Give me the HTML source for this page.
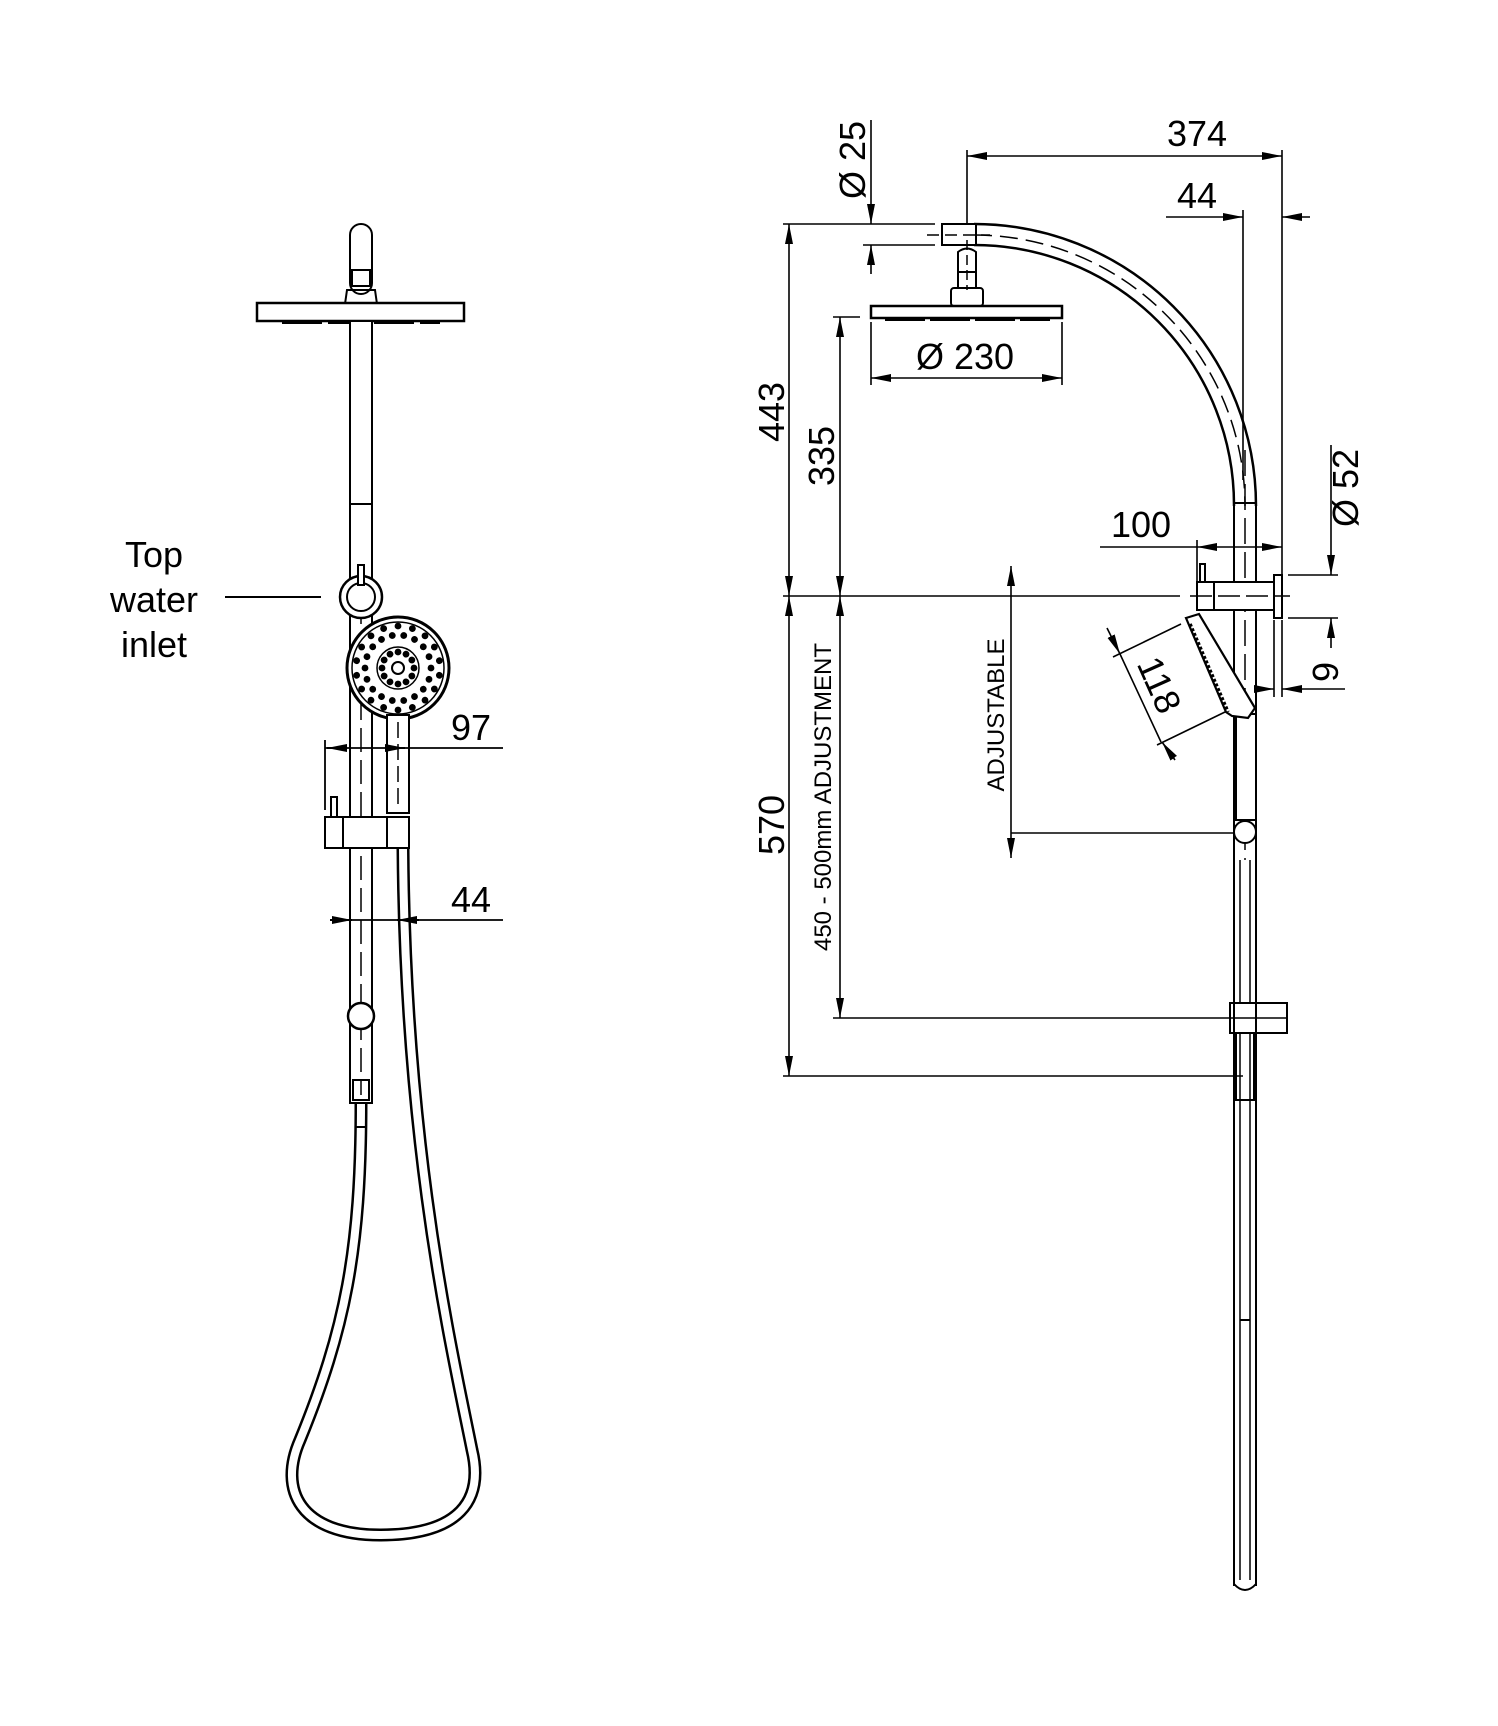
<!DOCTYPE html>
<html><head><meta charset="utf-8"><style>
html,body{margin:0;padding:0;background:#fff;}
svg{display:block;}
text{font-family:"Liberation Sans","DejaVu Sans",sans-serif;fill:#000;}
</style></head><body>
<svg width="1498" height="1726" viewBox="0 0 1498 1726" xmlns="http://www.w3.org/2000/svg">
<defs>
<marker id="a" viewBox="0 0 20 8" refX="20" refY="4" markerWidth="20" markerHeight="8" markerUnits="userSpaceOnUse" orient="auto-start-reverse"><path d="M0,0 L20,4 L0,8 z" fill="#000"/></marker>
<circle id="d" r="3.4" fill="#000"/>
</defs>
<g fill="none" stroke="#000" stroke-width="2">
<path d="M361 1103 C361 1250,345 1330,300 1440 C278 1490,300 1535,380 1535 C460 1535,484 1500,472 1450 C452 1350,405 1150,403 848" stroke-width="13"/>
<path d="M361 1103 C361 1250,345 1330,300 1440 C278 1490,300 1535,380 1535 C460 1535,484 1500,472 1450 C452 1350,405 1150,403 848" stroke="#fff" stroke-width="8"/>
<line x1="355" y1="1127" x2="367" y2="1127"/>
<rect x="350" y="224" width="22" height="70" rx="11" fill="#fff"/>
<rect x="352" y="270" width="18" height="16"/>
<path d="M345 304 L347 290 L375 290 L377 304"/>
<rect x="257" y="303" width="207" height="18" fill="#fff" stroke-width="2.5"/>
<line x1="282" y1="323" x2="440" y2="323" stroke-width="2" stroke-dasharray="40 6"/>
<rect x="350" y="321" width="22" height="782" fill="#fff"/>
<line x1="350" y1="504" x2="372" y2="504"/>
<line x1="361" y1="600" x2="361" y2="1095" stroke-dasharray="24 8" stroke-width="1.5"/>
<path d="M353 1080 L369 1080 L369 1100 L353 1100 z"/>
<circle cx="361" cy="597" r="21" fill="#fff" stroke-width="2.5"/>
<circle cx="361" cy="597" r="14" fill="#fff"/>
<rect x="358" y="565" width="6" height="20" fill="#fff"/>
<line x1="225" y1="597" x2="321" y2="597"/>
<circle cx="398" cy="668" r="51" fill="#fff" stroke-width="3"/>
<circle cx="398" cy="668" r="46" stroke-width="1.5"/>
<circle cx="398" cy="668" r="21" stroke-width="1.5"/>
<circle cx="398" cy="668" r="6"/>
<rect x="387" y="715" width="22" height="98" fill="#fff"/>
<line x1="398" y1="722" x2="398" y2="810" stroke-dasharray="16 6" stroke-width="1.5"/>
<rect x="325" y="817" width="84" height="31" fill="#fff"/>
<line x1="343" y1="817" x2="343" y2="848"/>
<line x1="387" y1="817" x2="387" y2="848"/>
<rect x="331" y="797" width="6" height="20"/>
<circle cx="361" cy="1016" r="13" fill="#fff" stroke-width="2.5"/>
<line x1="325" y1="748" x2="503" y2="748" stroke-width="1.8"/>
<line x1="325" y1="740" x2="325" y2="810" stroke-width="1.8"/>
<line x1="327" y1="748" x2="345" y2="748" marker-start="url(#a)"/>
<line x1="405" y1="748" x2="388" y2="748" marker-start="url(#a)"/>
<line x1="330" y1="920" x2="503" y2="920" stroke-width="1.8"/>
<line x1="352" y1="920" x2="330" y2="920" marker-start="url(#a)"/>
<line x1="397" y1="920" x2="419" y2="920" marker-start="url(#a)"/>

<path d="M974 224 A282 282 0 0 1 1256 506" stroke-width="2.5"/>
<path d="M974 245 A260 260 0 0 1 1234 506" stroke-width="2.5"/>
<path d="M974 235 A271 271 0 0 1 1245 506" stroke-dasharray="18 8" stroke-width="1.5"/>
<rect x="942" y="224" width="34" height="21" fill="#fff"/>
<line x1="927" y1="235" x2="990" y2="235" stroke-dasharray="12 6" stroke-width="1.5"/>
<path d="M958 290 L958 252 Q967 245 976 252 L976 290"/>
<line x1="958" y1="272" x2="976" y2="272"/>
<rect x="951" y="288" width="32" height="18" rx="3" fill="#fff"/>
<line x1="967" y1="240" x2="967" y2="290" stroke-dasharray="10 5" stroke-width="1.5"/>
<rect x="871" y="306" width="191" height="12" fill="#fff" stroke-width="2.5"/>
<line x1="885" y1="320" x2="1050" y2="320" stroke-dasharray="40 5" stroke-width="2"/>
<line x1="1234" y1="506" x2="1234" y2="1586"/>
<line x1="1256" y1="506" x2="1256" y2="1586"/>
<path d="M1234 1584 Q1245 1596 1256 1584"/>
<line x1="1234" y1="503" x2="1256" y2="503"/>
<line x1="1245" y1="450" x2="1245" y2="860" stroke-dasharray="26 8" stroke-width="1.5"/>
<line x1="1240" y1="860" x2="1240" y2="1580" stroke-width="1.5"/>
<line x1="1250" y1="860" x2="1250" y2="1580" stroke-width="1.5"/>
<line x1="1240" y1="1320" x2="1250" y2="1320"/>
<line x1="1240" y1="1100" x2="1250" y2="1100"/>
<rect x="1197" y="582" width="77" height="28" fill="#fff"/>
<line x1="1214" y1="582" x2="1214" y2="610"/>
<rect x="1274" y="575" width="8" height="43" fill="#fff"/>
<rect x="1200" y="564" width="5" height="18" fill="#fff"/>
<rect x="1236" y="714" width="20" height="106" fill="#fff"/>
<path d="M1186 618 L1199 614 L1255 708 L1248 718 L1232 716 L1226 712 z" fill="#fff" stroke-width="2.2"/>
<line x1="1190" y1="624" x2="1228" y2="712" stroke-width="3.5" stroke-dasharray="3 2"/>
<circle cx="1245" cy="832" r="11" fill="#fff"/>
<rect x="1230" y="1003" width="57" height="30" fill="#fff"/>
<line x1="1234" y1="1003" x2="1234" y2="1033"/>
<line x1="1256" y1="1003" x2="1256" y2="1033"/>
<path d="M1236 1033 L1236 1100 L1254 1100 L1254 1033"/>

<g stroke-width="1.6">
<line x1="967" y1="150" x2="967" y2="224"/>
<line x1="1282" y1="150" x2="1282" y2="575"/>
<line x1="990" y1="156" x2="967" y2="156" marker-end="url(#a)"/>
<line x1="990" y1="156" x2="1260" y2="156"/>
<line x1="1260" y1="156" x2="1282" y2="156" marker-end="url(#a)"/>
<line x1="1243" y1="210" x2="1243" y2="480"/>
<line x1="1166" y1="217" x2="1243" y2="217" marker-end="url(#a)"/>
<line x1="1310" y1="217" x2="1282" y2="217" marker-end="url(#a)"/>
<line x1="783" y1="224" x2="935" y2="224"/>
<line x1="863" y1="245" x2="935" y2="245"/>
<line x1="871" y1="120" x2="871" y2="224" marker-end="url(#a)"/>
<line x1="871" y1="274" x2="871" y2="245" marker-end="url(#a)"/>
<line x1="789" y1="250" x2="789" y2="224" marker-end="url(#a)"/>
<line x1="789" y1="250" x2="789" y2="570"/>
<line x1="789" y1="570" x2="789" y2="596" marker-end="url(#a)"/>
<line x1="789" y1="620" x2="789" y2="596" marker-end="url(#a)"/>
<line x1="789" y1="620" x2="789" y2="1050"/>
<line x1="789" y1="1050" x2="789" y2="1076" marker-end="url(#a)"/>
<line x1="783" y1="596" x2="1180" y2="596"/>
<line x1="1190" y1="596" x2="1290" y2="596" stroke-dasharray="22 6"/>
<line x1="783" y1="1076" x2="1243" y2="1076"/>
<line x1="833" y1="317" x2="860" y2="317"/>
<line x1="840" y1="343" x2="840" y2="317" marker-end="url(#a)"/>
<line x1="840" y1="343" x2="840" y2="570"/>
<line x1="840" y1="570" x2="840" y2="596" marker-end="url(#a)"/>
<line x1="840" y1="620" x2="840" y2="596" marker-end="url(#a)"/>
<line x1="840" y1="620" x2="840" y2="992"/>
<line x1="840" y1="992" x2="840" y2="1018" marker-end="url(#a)"/>
<line x1="833" y1="1018" x2="1287" y2="1018"/>
<line x1="871" y1="322" x2="871" y2="385"/>
<line x1="1062" y1="322" x2="1062" y2="385"/>
<line x1="895" y1="378" x2="871" y2="378" marker-end="url(#a)"/>
<line x1="895" y1="378" x2="1040" y2="378"/>
<line x1="1040" y1="378" x2="1062" y2="378" marker-end="url(#a)"/>
<line x1="1011" y1="592" x2="1011" y2="566" marker-end="url(#a)"/>
<line x1="1011" y1="592" x2="1011" y2="832"/>
<line x1="1011" y1="832" x2="1011" y2="858" marker-end="url(#a)"/>
<line x1="1011" y1="833" x2="1234" y2="833"/>
<line x1="1197" y1="540" x2="1197" y2="582"/>
<line x1="1100" y1="547" x2="1197" y2="547"/>
<line x1="1222" y1="547" x2="1197" y2="547" marker-end="url(#a)"/>
<line x1="1222" y1="547" x2="1258" y2="547"/>
<line x1="1258" y1="547" x2="1282" y2="547" marker-end="url(#a)"/>
<line x1="1288" y1="575" x2="1338" y2="575"/>
<line x1="1288" y1="618" x2="1338" y2="618"/>
<line x1="1331" y1="445" x2="1331" y2="575" marker-end="url(#a)"/>
<line x1="1331" y1="648" x2="1331" y2="618" marker-end="url(#a)"/>
<line x1="1274" y1="620" x2="1274" y2="697"/>
<line x1="1282" y1="620" x2="1282" y2="697"/>
<line x1="1254" y1="689" x2="1274" y2="689" marker-end="url(#a)"/>
<line x1="1345" y1="689" x2="1282" y2="689" marker-end="url(#a)"/>
<line x1="1113" y1="657" x2="1181" y2="624"/>
<line x1="1157" y1="745" x2="1225" y2="712"/>
<line x1="1107" y1="628" x2="1120" y2="654" marker-end="url(#a)"/>
<line x1="1120" y1="654" x2="1161" y2="742"/>
<line x1="1175" y1="760" x2="1162" y2="742" marker-end="url(#a)"/>
</g>
</g>
<g>
<use href="#d" x="398" y="626"/><use href="#d" x="398" y="626" transform="rotate(20 398 668)"/><use href="#d" x="398" y="626" transform="rotate(40 398 668)"/><use href="#d" x="398" y="626" transform="rotate(60 398 668)"/><use href="#d" x="398" y="626" transform="rotate(80 398 668)"/><use href="#d" x="398" y="626" transform="rotate(100 398 668)"/><use href="#d" x="398" y="626" transform="rotate(120 398 668)"/><use href="#d" x="398" y="626" transform="rotate(140 398 668)"/><use href="#d" x="398" y="626" transform="rotate(160 398 668)"/><use href="#d" x="398" y="626" transform="rotate(180 398 668)"/><use href="#d" x="398" y="626" transform="rotate(200 398 668)"/><use href="#d" x="398" y="626" transform="rotate(220 398 668)"/><use href="#d" x="398" y="626" transform="rotate(240 398 668)"/><use href="#d" x="398" y="626" transform="rotate(260 398 668)"/><use href="#d" x="398" y="626" transform="rotate(280 398 668)"/><use href="#d" x="398" y="626" transform="rotate(300 398 668)"/><use href="#d" x="398" y="626" transform="rotate(320 398 668)"/><use href="#d" x="398" y="626" transform="rotate(340 398 668)"/>
<use href="#d" x="398" y="635" transform="rotate(10 398 668)"/><use href="#d" x="398" y="635" transform="rotate(30 398 668)"/><use href="#d" x="398" y="635" transform="rotate(50 398 668)"/><use href="#d" x="398" y="635" transform="rotate(70 398 668)"/><use href="#d" x="398" y="635" transform="rotate(90 398 668)"/><use href="#d" x="398" y="635" transform="rotate(110 398 668)"/><use href="#d" x="398" y="635" transform="rotate(130 398 668)"/><use href="#d" x="398" y="635" transform="rotate(150 398 668)"/><use href="#d" x="398" y="635" transform="rotate(170 398 668)"/><use href="#d" x="398" y="635" transform="rotate(190 398 668)"/><use href="#d" x="398" y="635" transform="rotate(210 398 668)"/><use href="#d" x="398" y="635" transform="rotate(230 398 668)"/><use href="#d" x="398" y="635" transform="rotate(250 398 668)"/><use href="#d" x="398" y="635" transform="rotate(270 398 668)"/><use href="#d" x="398" y="635" transform="rotate(290 398 668)"/><use href="#d" x="398" y="635" transform="rotate(310 398 668)"/><use href="#d" x="398" y="635" transform="rotate(330 398 668)"/><use href="#d" x="398" y="635" transform="rotate(350 398 668)"/>
<use href="#d" x="398" y="652"/><use href="#d" x="398" y="652" transform="rotate(30 398 668)"/><use href="#d" x="398" y="652" transform="rotate(60 398 668)"/><use href="#d" x="398" y="652" transform="rotate(90 398 668)"/><use href="#d" x="398" y="652" transform="rotate(120 398 668)"/><use href="#d" x="398" y="652" transform="rotate(150 398 668)"/><use href="#d" x="398" y="652" transform="rotate(180 398 668)"/><use href="#d" x="398" y="652" transform="rotate(210 398 668)"/><use href="#d" x="398" y="652" transform="rotate(240 398 668)"/><use href="#d" x="398" y="652" transform="rotate(270 398 668)"/><use href="#d" x="398" y="652" transform="rotate(300 398 668)"/><use href="#d" x="398" y="652" transform="rotate(330 398 668)"/>
</g>
<g font-size="36" text-anchor="middle">
<text x="154" y="567">Top</text>
<text x="154" y="612">water</text>
<text x="154" y="657">inlet</text>
<text x="471" y="740">97</text>
<text x="471" y="912">44</text>
<text x="1197" y="146">374</text>
<text x="1197" y="208">44</text>
<text x="965" y="369">Ø 230</text>
<text x="1141" y="537">100</text>
<text transform="translate(1338,672) rotate(-90)">9</text>
<text transform="translate(1358,488) rotate(-90)">Ø 52</text>
<text transform="translate(865,160) rotate(-90)">Ø 25</text>
<text transform="translate(784,412) rotate(-90)">443</text>
<text transform="translate(834,456) rotate(-90)">335</text>
<text transform="translate(784,825) rotate(-90)">570</text>
<text transform="translate(1148,690) rotate(66)">118</text>
</g>
<g font-size="24" text-anchor="middle">
<text transform="translate(831,797) rotate(-90)">450 - 500mm ADJUSTMENT</text>
<text transform="translate(1004,715) rotate(-90)">ADJUSTABLE</text>
</g>
</svg>
</body></html>
